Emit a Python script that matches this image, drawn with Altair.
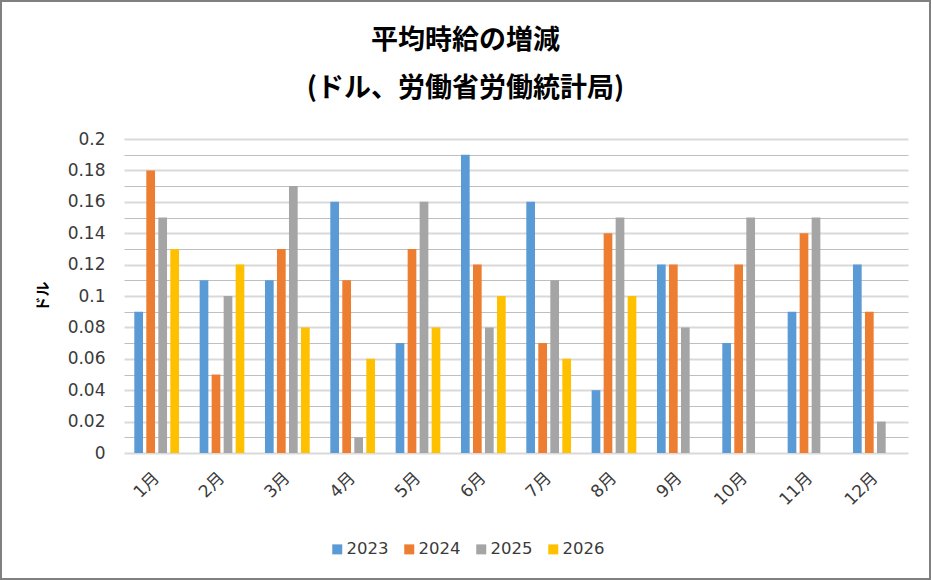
import pandas as pd
import altair as alt

LABEL_FONT = "DejaVu Sans, Noto Sans CJK JP"
JP_FONT = "Noto Sans CJK JP"

title_lines = ["平均時給の増減", "(ドル、労働省労働統計局)"]
months = ["1月", "2月", "3月", "4月", "5月", "6月", "7月", "8月", "9月", "10月", "11月", "12月"]
years = ["2023", "2024", "2025", "2026"]
v2023 = [0.09, 0.11, 0.11, 0.16, 0.07, 0.19, 0.16, 0.04, 0.12, 0.07, 0.09, 0.12]
v2024 = [0.18, 0.05, 0.13, 0.11, 0.13, 0.12, 0.07, 0.14, 0.12, 0.12, 0.14, 0.09]
v2025 = [0.15, 0.10, 0.17, 0.01, 0.16, 0.08, 0.11, 0.15, 0.08, 0.15, 0.15, 0.02]
v2026 = [0.13, 0.12, 0.08, 0.06, 0.08, 0.10, 0.06, 0.10, None, None, None, None]
colors = ["#5B9BD5", "#ED7D31", "#A5A5A5", "#FFC000"]

major_ticks = [0, 0.02, 0.04, 0.06, 0.08, 0.1, 0.12, 0.14, 0.16, 0.18, 0.2]
minor_ticks = [0.01, 0.03, 0.05, 0.07, 0.09, 0.11, 0.13, 0.15, 0.17, 0.19]

rows = []
for year, values in zip(years, [v2023, v2024, v2025, v2026]):
    for month, v in zip(months, values):
        if v is not None:
            rows.append({"month": month, "year": year, "value": v})
df = pd.DataFrame(rows)

x_scale = alt.Scale(paddingInner=0.265, paddingOuter=0.1325)
y_scale = alt.Scale(domain=[0, 0.2], nice=False, zero=True)

bars = (
    alt.Chart(df)
    .mark_bar()
    .encode(
        x=alt.X(
            "month:N",
            sort=months,
            title=None,
            scale=x_scale,
            axis=alt.Axis(
                labelAngle=-45,
                labelAlign="right",
                labelBaseline="middle",
                labelPadding=22,
                labelFontSize=17,
                labelFont=LABEL_FONT,
                labelColor="#3a3a3a",
                domain=False,
                ticks=False,
                tickSize=0,
                grid=False,
            ),
        ),
        xOffset=alt.XOffset(
            "year:N",
            sort=years,
            scale=alt.Scale(domain=years, paddingInner=0.275, paddingOuter=0.1375),
        ),
        y=alt.Y(
            "value:Q",
            scale=y_scale,
            axis=alt.Axis(
                values=major_ticks,
                format=".2~f",
                title="ドル",
                titleFont=JP_FONT,
                titleFontSize=15,
                titleFontWeight="bold",
                titleColor="#000000",
                titlePadding=17,
                labelFont=LABEL_FONT,
                labelFontSize=17,
                labelColor="#3a3a3a",
                labelPadding=19,
                domain=False,
                ticks=False,
                tickSize=0,
                grid=True,
                gridColor="#D9D9D9",
                gridWidth=2,
            ),
        ),
        color=alt.Color(
            "year:N",
            title=None,
            scale=alt.Scale(domain=years, range=colors),
            legend=alt.Legend(
                orient="none",
                direction="horizontal",
                legendX=205,
                legendY=402,
                padding=0,
                symbolType="square",
                symbolSize=100,
                symbolStrokeWidth=0,
                labelFont=LABEL_FONT,
                labelFontSize=16.5,
                labelColor="#3a3a3a",
                labelOffset=1,
                columnPadding=12,
            ),
        ),
    )
)

# invisible layer: carries the minor gridlines and the two-line chart title (top axis)
minor_grid = (
    alt.Chart(df)
    .mark_bar(opacity=0)
    .encode(
        x=alt.X(
            "month:N",
            sort=months,
            scale=x_scale,
            axis=alt.Axis(
                orient="top",
                labels=False,
                ticks=False,
                domain=False,
                grid=False,
                title=title_lines,
                titleFont=JP_FONT,
                titleFontSize=27,
                titleFontWeight="bold",
                titleColor="#000000",
                titleLineHeight=48,
                titleAlign="center",
                titleBaseline="top",
                titleAngle=0,
                titleX=341,
                titleY=-112,
            ),
        ),
        y=alt.Y(
            "value:Q",
            scale=y_scale,
            axis=alt.Axis(
                values=minor_ticks,
                labels=False,
                ticks=False,
                domain=False,
                title=None,
                grid=True,
                gridColor="#BFBFBF",
                gridWidth=1,
            ),
        ),
    )
)

chart = (
    alt.layer(bars, minor_grid)
    .resolve_axis(x="independent", y="independent")
    .properties(
        width=784,
        height=314,
        autosize=alt.AutoSizeParams(type="none"),
        padding={"left": 122, "top": 137, "right": 21, "bottom": 125},
        background="white",
    )
    .configure_view(stroke=None)
)

chart.save("out.html", embed_options={"renderer": "svg", "actions": False})

with open("out.html", "r", encoding="utf-8") as handle:
    html = handle.read()
html = html.replace(
    "</head>",
    "<style>body{margin:0} .vega-embed svg{border:2px solid #808080; display:block}</style></head>",
)
with open("out.html", "w", encoding="utf-8") as handle:
    handle.write(html)
